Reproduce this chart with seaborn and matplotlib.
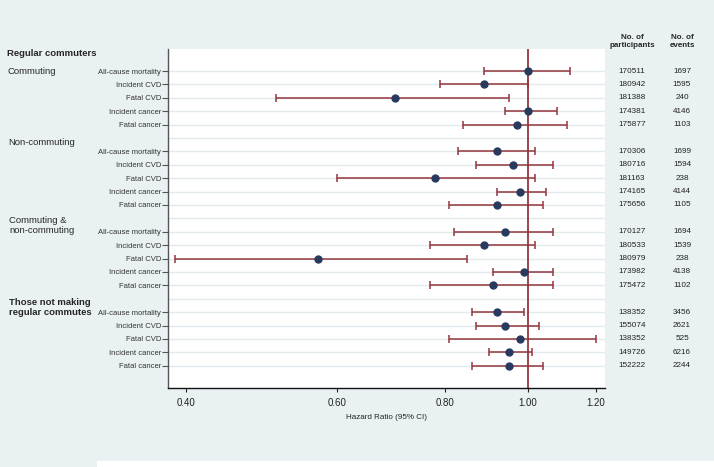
import numpy as np
import pandas as pd
import matplotlib.pyplot as plt
import matplotlib.transforms as mtransforms
from matplotlib.patches import Rectangle
import seaborn as sns

# --- data ---
outcomes = ['All-cause mortality', 'Incident CVD', 'Fatal CVD', 'Incident cancer', 'Fatal cancer']
groups = ['Regular commuters: Commuting', 'Non-commuting', 'Commuting & non-commuting',
          'Those not making regular commutes']

hr = [1.00, 0.89, 0.70, 1.00, 0.97,
      0.92, 0.96, 0.78, 0.98, 0.92,
      0.94, 0.89, 0.57, 0.99, 0.91,
      0.92, 0.94, 0.98, 0.95, 0.95]
lo = [0.89, 0.79, 0.51, 0.94, 0.84,
      0.83, 0.87, 0.60, 0.92, 0.81,
      0.82, 0.77, 0.389, 0.91, 0.77,
      0.86, 0.87, 0.81, 0.90, 0.86]
hi = [1.12, 1.00, 0.95, 1.08, 1.11,
      1.02, 1.07, 1.02, 1.05, 1.04,
      1.07, 1.02, 0.85, 1.07, 1.07,
      0.99, 1.03, 1.20, 1.01, 1.04]
participants = [170511, 180942, 181388, 174381, 175877,
                170306, 180716, 181163, 174165, 175656,
                170127, 180533, 180979, 173982, 175472,
                138352, 155074, 138352, 149726, 152222]
events = [1697, 1595, 240, 4146, 1103,
          1699, 1594, 238, 4144, 1105,
          1694, 1539, 238, 4138, 1102,
          3456, 2621, 525, 6216, 2244]

# row slots (0 = top); one empty slot between groups
pos = [g * 6 + 1 + i for g in range(4) for i in range(5)]

df = pd.DataFrame({'outcome': outcomes * 4, 'hr': hr, 'lo': lo, 'hi': hi,
                   'pos': pos, 'n': participants, 'ev': events})

sns.set_theme(style='white')
plt.rcParams['font.family'] = ['Liberation Sans', 'DejaVu Sans']

bg = '#eaf1f3'
red = '#93363d'
navy = '#283a5e'

fig = plt.figure(figsize=(7.14, 4.67), dpi=100, facecolor=bg)
ax = fig.add_axes([168 / 714, 1 - 388.3 / 467, (605 - 168) / 714, (388.3 - 49.3) / 467])
ax.set_facecolor('white')

# grid lines for every slot
ax.hlines(range(1, 24), 0.3, 1.3, color='#e2eaed', lw=1.0, zorder=0)
ax.axvline(1.0, color=red, lw=1.3, zorder=1)

ax.errorbar(df['hr'], df['pos'], xerr=[df['hr'] - df['lo'], df['hi'] - df['hr']],
            fmt='none', ecolor=red, elinewidth=1.1, capsize=2.8, capthick=1.1, zorder=2)
sns.scatterplot(data=df, x='hr', y='pos', color=navy, s=36, edgecolor=navy,
                linewidth=0, zorder=3, ax=ax)

ax.set_xscale('log')
ax.set_xlim(0.3815, 1.229)
ax.set_ylim(24.68, -0.62)
ax.set_xticks([0.4, 0.6, 0.8, 1.0, 1.2])
ax.set_xticklabels(['0.40', '0.60', '0.80', '1.00', '1.20'], fontsize=7, color='#222222')
ax.xaxis.set_minor_locator(plt.NullLocator())
ax.set_yticks(df['pos'])
ax.set_yticklabels(df['outcome'], fontsize=5.5, color='#333333')
ax.tick_params(axis='x', length=3, width=0.8, color='#222222', pad=4, bottom=True)
ax.tick_params(axis='y', length=4, width=0.8, color='#555555', pad=1, left=True)
ax.set_xlabel('Hazard Ratio (95% CI)', fontsize=5.8, color='#222222', labelpad=4)
ax.set_ylabel('')

for s in ['top', 'right']:
    ax.spines[s].set_visible(False)
ax.spines['left'].set_color('#555555')
ax.spines['left'].set_linewidth(1.0)
ax.spines['bottom'].set_color('#111111')
ax.spines['bottom'].set_linewidth(1.0)

# group labels on the left
tr = mtransforms.blended_transform_factory(fig.transFigure, ax.transData)
lab_fs = 6.8
ax.text(7 / 714, -0.34, 'Regular commuters', transform=tr, fontsize=lab_fs,
        fontweight='bold', va='center', ha='left')
ax.text(7 / 714, 1.0, 'Commuting', transform=tr, fontsize=lab_fs, va='center', ha='left')
ax.text(8 / 714, 6.37, 'Non-commuting', transform=tr, fontsize=lab_fs, va='center', ha='left')
ax.text(9 / 714, 12.52, 'Commuting &\nnon-commuting', transform=tr, fontsize=lab_fs,
        va='center', ha='left', linespacing=1.1)
ax.text(9 / 714, 18.65, 'Those not making\nregular commutes', transform=tr, fontsize=lab_fs,
        fontweight='bold', va='center', ha='left', linespacing=1.05)

# right-hand columns
for _, r in df.iterrows():
    ax.text(632 / 714, r['pos'], str(r['n']), transform=tr, fontsize=5.9,
            color='#222222', ha='center', va='center')
    ax.text(682 / 714, r['pos'], str(r['ev']), transform=tr, fontsize=5.9,
            color='#222222', ha='center', va='center')
fig.text(632 / 714, 1 - 41.5 / 467, 'No. of\nparticipants', fontsize=5.8, fontweight='bold',
         ha='center', va='center', linespacing=1.25)
fig.text(682 / 714, 1 - 41.5 / 467, 'No. of\nevents', fontsize=5.8, fontweight='bold',
         ha='center', va='center', linespacing=1.25)

# white strip along the bottom edge
fig.patches.append(Rectangle((97 / 714, 0), 1, 6 / 467, transform=fig.transFigure,
                             facecolor='white', edgecolor='none', zorder=-1))

fig.savefig('out.png', dpi=100, facecolor=bg)
